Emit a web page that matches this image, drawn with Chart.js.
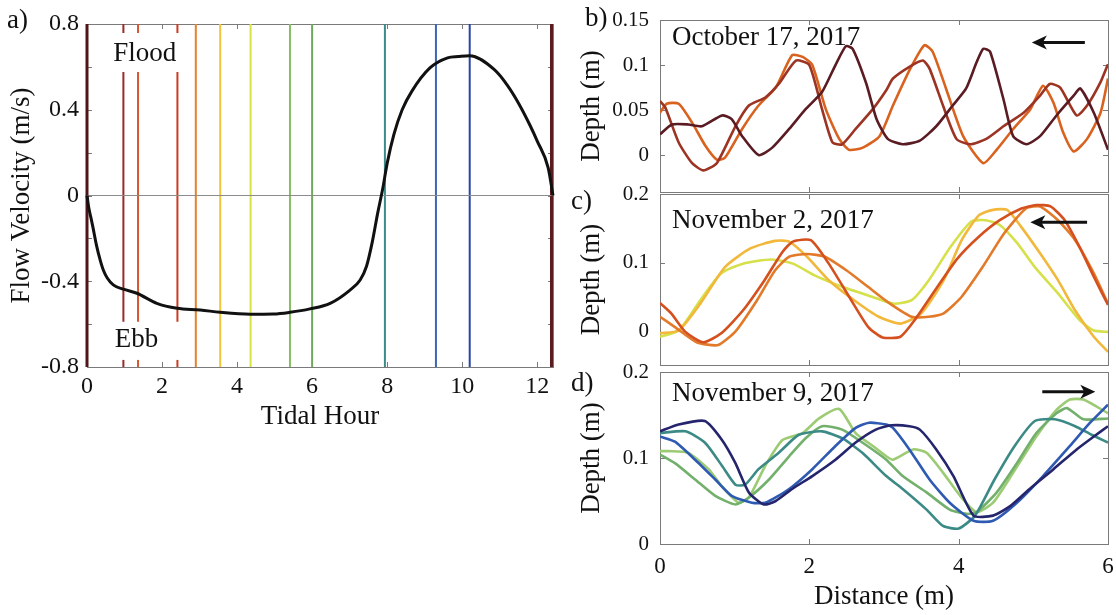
<!DOCTYPE html>
<html>
<head>
<meta charset="utf-8">
<script src="https://cdn.jsdelivr.net/npm/chart.js@4.4.1/dist/chart.umd.min.js"></script>
<style>
  body { margin: 0; background: #fff; width: 1116px; height: 615px; position: relative; overflow: hidden;
         font-family: "Liberation Serif", "Times New Roman", serif; }
  canvas { position: absolute; }
  .tag { position: absolute; font-size: 27px; line-height: 27px; color: #111; }
</style>
</head>
<body>
<canvas id="tide" width="560" height="440" style="left:0;top:0"></canvas>
<canvas id="oct17" width="556" height="200" style="left:560px;top:0"></canvas>
<canvas id="nov2" width="556" height="200" style="left:560px;top:170px"></canvas>
<canvas id="nov9" width="556" height="265" style="left:560px;top:350px"></canvas>
<div class="tag" style="left:7px;top:6px">a)</div>
<div class="tag" style="left:585px;top:4px">b)</div>
<div class="tag" style="left:571px;top:187px">c)</div>
<div class="tag" style="left:571px;top:369px">d)</div>
<script>
// ---- panel a: tidal velocity ----
const tidalHour = [0, 0.05, 0.1, 0.16, 0.25, 0.35, 0.44, 0.54, 0.7, 0.97, 1.33, 1.86, 2.4, 3.02, 3.55, 4.35,
  4.97, 5.41, 5.94, 6.48, 7.01, 7.28, 7.45, 7.6, 7.75, 7.88, 8.0, 8.18, 8.4, 8.66, 9.14, 9.61, 9.9, 10.19,
  10.85, 11.2, 11.52, 11.8, 12.0, 12.29, 12.42];
const flowVelocity = [0, -0.06, -0.1, -0.15, -0.23, -0.3, -0.35, -0.385, -0.417, -0.437, -0.456, -0.503, -0.526, -0.534, -0.545, -0.554,
  -0.553, -0.545, -0.529, -0.503, -0.441, -0.394, -0.33, -0.22, -0.08, 0.03, 0.15, 0.285, 0.4, 0.487, 0.595, 0.642, 0.648, 0.652,
  0.588, 0.515, 0.425, 0.33, 0.254, 0.13, 0];
const sampleHours = [0, 0.97, 1.36, 2.41, 2.9, 3.55, 4.36, 5.41, 6.0, 7.94, 9.3, 10.2, 12.38];
const hourTicks = [0, 2, 4, 6, 8, 10, 12];
const velocityTicks = [-0.8, -0.6, -0.4, -0.2, 0, 0.2, 0.4, 0.6, 0.8];

// ---- panels b-d: depth profiles, [distance m, depth m] ----
const oct17Maroon = [[0,0.023],[0.16,0.034],[0.38,0.034],[0.56,0.032],[0.83,0.044],[0.96,0.04],[1.1,0.021],[1.32,0],[1.5,0.008],
  [1.73,0.029],[1.95,0.051],[2.17,0.07],[2.35,0.1],[2.49,0.121],[2.58,0.118],[2.76,0.08],[2.9,0.04],[3.05,0.018],[3.25,0.012],
  [3.48,0.016],[3.7,0.032],[3.92,0.055],[4.1,0.074],[4.24,0.103],[4.33,0.118],[4.42,0.115],[4.6,0.062],[4.73,0.021],[4.91,0.012],
  [5.09,0.021],[5.31,0.044],[5.54,0.066],[5.63,0.074],[5.81,0.047],[6,0.006]];
const oct17Red = [[0,0.06],[0.07,0.053],[0.25,0.014],[0.43,-0.009],[0.58,-0.017],[0.76,-0.009],[1.01,0.032],[1.19,0.055],[1.41,0.064],
  [1.59,0.079],[1.82,0.105],[2.0,0.1],[2.17,0.051],[2.31,0.014],[2.44,0.012],[2.62,0.029],[2.85,0.051],[3.03,0.072],[3.12,0.085],
  [3.34,0.098],[3.52,0.105],[3.61,0.096],[3.79,0.055],[3.97,0.018],[4.15,0.012],[4.37,0.018],[4.6,0.032],[4.87,0.047],[5.09,0.066],
  [5.22,0.079],[5.36,0.075],[5.58,0.044],[5.72,0.055],[5.9,0.081],[6,0.101]];
const oct17Orange = [[0,0.047],[0.09,0.057],[0.25,0.057],[0.43,0.036],[0.61,0.01],[0.76,-0.005],[0.87,-0.003],[1.1,0.029],[1.32,0.055],
  [1.55,0.075],[1.77,0.111],[1.91,0.109],[2.04,0.1],[2.22,0.051],[2.4,0.018],[2.53,0.006],[2.71,0.008],[2.94,0.021],[3.12,0.055],
  [3.34,0.094],[3.54,0.122],[3.65,0.115],[3.83,0.074],[4.06,0.021],[4.33,-0.009],[4.51,0.006],[4.73,0.029],[4.96,0.051],[5.13,0.077],
  [5.27,0.058],[5.4,0.025],[5.54,0.004],[5.72,0.018],[5.9,0.047],[6,0.085]];

const nov2Red = [[0,0.042],[0.15,0.027],[0.34,0],[0.58,-0.015],[0.82,-0.002],[1.11,0.031],[1.4,0.075],[1.64,0.116],[1.78,0.131],
  [2.02,0.133],[2.26,0.099],[2.55,0.048],[2.79,0.007],[2.98,-0.008],[3.22,-0.007],[3.41,0.017],[3.7,0.063],[3.98,0.106],[4.27,0.138],
  [4.55,0.162],[4.84,0.179],[5.04,0.184],[5.23,0.182],[5.42,0.162],[5.62,0.123],[5.81,0.08],[6,0.039]];
const nov2Orange = [[0,0.022],[0.2,0.007],[0.49,-0.015],[0.78,-0.019],[1.02,0.002],[1.3,0.046],[1.54,0.089],[1.73,0.109],[1.97,0.113],
  [2.21,0.109],[2.5,0.089],[2.79,0.065],[3.08,0.041],[3.37,0.022],[3.6,0.022],[3.8,0.027],[4.04,0.051],[4.32,0.094],[4.61,0.143],
  [4.9,0.179],[5.09,0.182],[5.33,0.162],[5.56,0.133],[5.81,0.085],[6,0.041]];
const nov2Yellow = [[0,-0.002],[0.25,0.002],[0.54,0.041],[0.87,0.094],[1.21,0.121],[1.54,0.132],[1.73,0.131],[1.97,0.109],[2.26,0.075],
  [2.6,0.046],[2.93,0.022],[3.22,0.012],[3.5,0.027],[3.8,0.075],[4.04,0.133],[4.27,0.169],[4.46,0.177],[4.65,0.177],[4.84,0.152],
  [5.09,0.114],[5.33,0.075],[5.56,0.031],[5.81,-0.007],[6,-0.029]];
const nov2Lime = [[0,-0.007],[0.25,0.002],[0.54,0.046],[0.82,0.085],[1.11,0.099],[1.49,0.105],[1.78,0.099],[2.07,0.082],[2.45,0.065],
  [2.84,0.051],[3.12,0.041],[3.37,0.046],[3.6,0.075],[3.89,0.123],[4.17,0.16],[4.36,0.162],[4.55,0.155],[4.79,0.128],[5.02,0.094],
  [5.33,0.056],[5.62,0.017],[5.81,0.002],[6,0]];

const nov9Light = [[0,0.108],[0.11,0.108],[0.38,0.106],[0.65,0.087],[0.83,0.067],[1.05,0.048],[1.19,0.054],[1.41,0.091],[1.64,0.121],
  [1.91,0.129],[2.13,0.146],[2.4,0.157],[2.62,0.129],[2.85,0.114],[3.03,0.102],[3.12,0.098],[3.39,0.11],[3.57,0.106],[3.79,0.083],
  [4.02,0.056],[4.24,0.037],[4.46,0.048],[4.73,0.083],[5.04,0.125],[5.31,0.156],[5.49,0.168],[5.67,0.168],[6,0.152]];
const nov9Green = [[0,0.104],[0.2,0.094],[0.47,0.075],[0.74,0.056],[1.01,0.046],[1.19,0.054],[1.46,0.075],[1.73,0.102],[1.95,0.123],
  [2.17,0.137],[2.44,0.133],[2.71,0.118],[3.03,0.098],[3.25,0.079],[3.57,0.06],[3.88,0.04],[4.11,0.035],[4.24,0.037],[4.51,0.06],
  [4.78,0.094],[5.04,0.129],[5.31,0.152],[5.45,0.158],[5.67,0.145],[6,0.146]];
const nov9Teal = [[0,0.129],[0.34,0.131],[0.6,0.118],[0.83,0.091],[1.01,0.069],[1.14,0.069],[1.32,0.087],[1.59,0.106],[1.86,0.127],
  [2.17,0.131],[2.44,0.123],[2.71,0.106],[3.03,0.079],[3.25,0.064],[3.57,0.04],[3.79,0.021],[4.0,0.018],[4.22,0.033],[4.48,0.075],
  [4.75,0.114],[5.02,0.143],[5.29,0.145],[5.56,0.137],[5.78,0.127],[6,0.118]];
const nov9Blue = [[0,0.125],[0.2,0.119],[0.47,0.098],[0.74,0.075],[0.96,0.056],[1.23,0.048],[1.41,0.048],[1.73,0.064],[2.04,0.087],
  [2.35,0.114],[2.62,0.135],[2.8,0.141],[3.03,0.139],[3.12,0.135],[3.34,0.11],[3.61,0.075],[3.88,0.048],[4.2,0.027],[4.46,0.027],
  [4.78,0.048],[5.13,0.079],[5.49,0.114],[5.76,0.141],[6,0.162]];
const nov9Navy = [[0,0.131],[0.25,0.139],[0.6,0.143],[0.83,0.121],[1.01,0.094],[1.19,0.06],[1.39,0.046],[1.55,0.05],[1.77,0.064],
  [2.04,0.079],[2.35,0.098],[2.62,0.118],[2.89,0.133],[3.1,0.138],[3.34,0.137],[3.48,0.133],[3.7,0.11],[3.93,0.079],[4.2,0.033],
  [4.46,0.033],[4.69,0.044],[4.95,0.064],[5.27,0.087],[5.58,0.11],[5.81,0.125],[6,0.137]];
const distanceTicks = [0, 2, 4, 6];

const sampleColors = ['#4e1619', '#9a2b2b', '#d4582f', '#cc3b22', '#e8812c', '#f2c63a', '#d6e443',
  '#86bf62', '#6ea85a', '#3a8c8a', '#3a66b6', '#2b45a6', '#5a1c1e'];

const SERIF = '"Liberation Serif", "Times New Roman", serif';
Chart.defaults.font.family = SERIF;
Chart.defaults.color = '#111';

// frame with inward ticks, then text, white boxes and arrows in data units
const notes = {
  id: 'notes',
  beforeDatasetsDraw(chart) {
    const { ctx, chartArea: a, scales: { x, y } } = chart;
    ctx.save();
    ctx.strokeStyle = '#7a7a7a';
    ctx.lineWidth = 1;
    ctx.strokeRect(a.left + 0.5, a.top + 0.5, a.width, a.height);
    ctx.beginPath();
    x.ticks.forEach(t => {
      const p = Math.round(x.getPixelForValue(t.value)) + 0.5;
      ctx.moveTo(p, a.bottom); ctx.lineTo(p, a.bottom - 5);
      ctx.moveTo(p, a.top); ctx.lineTo(p, a.top + 5);
    });
    y.ticks.forEach(t => {
      const p = Math.round(y.getPixelForValue(t.value)) + 0.5;
      ctx.moveTo(a.left, p); ctx.lineTo(a.left + 5, p);
      ctx.moveTo(a.right, p); ctx.lineTo(a.right - 5, p);
    });
    ctx.stroke();
    ctx.restore();
  },
  afterDatasetsDraw(chart, args, opts) {
    const { ctx, scales: { x, y } } = chart;
    ctx.save();
    (opts.boxes || []).forEach(b => {
      const x0 = x.getPixelForValue(b[0]), x1 = x.getPixelForValue(b[1]);
      const y0 = y.getPixelForValue(b[2]), y1 = y.getPixelForValue(b[3]);
      ctx.fillStyle = '#fff';
      ctx.fillRect(x0, y0, x1 - x0, y1 - y0);
    });
    (opts.labels || []).forEach(l => {
      ctx.font = '27px ' + SERIF;
      ctx.fillStyle = '#111';
      ctx.textAlign = 'left';
      ctx.textBaseline = 'middle';
      ctx.fillText(l.text, x.getPixelForValue(l.x), y.getPixelForValue(l.y));
    });
    (opts.arrows || []).forEach(r => {
      const tx = x.getPixelForValue(r.from), hx = x.getPixelForValue(r.to), py = y.getPixelForValue(r.y);
      const dir = Math.sign(hx - tx);
      ctx.strokeStyle = '#111';
      ctx.fillStyle = '#111';
      ctx.lineWidth = 3;
      ctx.beginPath();
      ctx.moveTo(tx, py); ctx.lineTo(hx - dir * 8, py);
      ctx.stroke();
      ctx.beginPath();
      ctx.moveTo(hx, py);
      ctx.lineTo(hx - dir * 15, py - 7);
      ctx.lineTo(hx - dir * 11, py);
      ctx.lineTo(hx - dir * 15, py + 7);
      ctx.closePath();
      ctx.fill();
    });
    ctx.restore();
  }
};

function fixedTicks(list) {
  return s => { s.ticks = list.map(v => ({ value: v })); };
}

function axisX(min, max, list, height, withLabels, title, fontSize, labelPad, titlePad) {
  return {
    type: 'linear', min, max,
    afterBuildTicks: fixedTicks(list),
    afterFit: s => { s.height = height; s.paddingLeft = 0; s.paddingRight = 0; },
    grid: { display: false, drawTicks: false }, border: { display: false },
    ticks: { display: withLabels, font: { size: fontSize }, padding: labelPad,
      maxRotation: 0, autoSkip: false, callback: v => String(v) },
    title: { display: !!title, text: title, font: { size: 27 }, padding: { top: 0, bottom: titlePad } }
  };
}

function axisY(min, max, list, width, title, titlePad, fontSize, labelPad, labelled) {
  return {
    min, max,
    afterBuildTicks: fixedTicks(list),
    afterFit: s => { s.width = width; s.paddingTop = 0; s.paddingBottom = 0; },
    grid: { display: false, drawTicks: false }, border: { display: false },
    ticks: { font: { size: fontSize }, padding: labelPad, autoSkip: false,
      callback: v => (labelled ? labelled(v) : true) ? String(v) : '' },
    title: { display: true, text: title, font: { size: 27 }, padding: { top: titlePad, bottom: 0 } }
  };
}

function profile(points, color) {
  return { data: points.map(p => ({ x: p[0], y: p[1] })), borderColor: color, borderWidth: 2.6,
    pointRadius: 0, tension: 0.2, fill: false };
}

const baseOptions = {
  responsive: false, animation: false, events: [],
  plugins: { legend: { display: false }, tooltip: { enabled: false } }
};

// panel a
const velMin = -0.8, velMax = 0.8, hourMax = 12.42;
const tideSets = [
  { data: tidalHour.map((h, i) => ({ x: h, y: flowVelocity[i] })), borderColor: '#111', borderWidth: 3,
    pointRadius: 0, cubicInterpolationMode: 'monotone', clip: false },
  { data: [{ x: 0, y: 0 }, { x: hourMax, y: 0 }], borderColor: '#8c8c8c', borderWidth: 1, pointRadius: 0 }
];
sampleHours.forEach((h, i) => {
  tideSets.push({ data: [{ x: h, y: velMin }, { x: h, y: velMax }], borderColor: sampleColors[i],
    borderWidth: i === 0 || i === sampleHours.length - 1 ? 3 : 2, pointRadius: 0, clip: false });
});

new Chart(document.getElementById('tide'), {
  type: 'line',
  data: { datasets: tideSets },
  plugins: [notes],
  options: Object.assign({}, baseOptions, {
    layout: { padding: { top: 24, right: 7, left: 0, bottom: 0 } },
    scales: {
      x: axisX(0, hourMax, hourTicks, 73, true, 'Tidal Hour', 24, 5, 7),
      y: axisY(velMin, velMax, velocityTicks, 87, 'Flow Velocity (m/s)', 6, 24, 8,
        v => Math.round(v * 10) % 4 === 0)
    },
    plugins: Object.assign({}, baseOptions.plugins, {
      notes: {
        boxes: [[0.56, 2.52, 0.758, 0.576], [0.56, 2.52, -0.589, -0.767]],
        labels: [{ text: 'Flood', x: 0.7, y: 0.662 }, { text: 'Ebb', x: 0.74, y: -0.672 }]
      }
    })
  })
});

// panels b-d
function depthChart(id, sets, yMin, yMax, yTicks, top, xHeight, showX, note) {
  return new Chart(document.getElementById(id), {
    type: 'line',
    data: { datasets: sets },
    plugins: [notes],
    options: Object.assign({}, baseOptions, {
      layout: { padding: { top, right: 8, left: 0, bottom: 0 } },
      scales: {
        x: axisX(0, 6, distanceTicks, xHeight, showX, showX ? 'Distance (m)' : '', 23, 9, 2),
        y: axisY(yMin, yMax, yTicks, 100, 'Depth (m)', 16, 21, 11)
      },
      plugins: Object.assign({}, baseOptions.plugins, { notes: note })
    })
  });
}

depthChart('oct17', [
  profile(oct17Maroon, '#5a1b22'),
  profile(oct17Red, '#9c3424'),
  profile(oct17Orange, '#d9621f')
], -0.041, 0.15, [0, 0.05, 0.1, 0.15], 20, 8, false, {
  labels: [{ text: 'October 17, 2017', x: 0.16, y: 0.13 }],
  arrows: [{ from: 5.69, to: 4.98, y: 0.125 }]
});

depthChart('nov2', [
  profile(nov2Red, '#d4501e'),
  profile(nov2Orange, '#e27a2a'),
  profile(nov2Yellow, '#f2b83c'),
  profile(nov2Lime, '#d6e04a')
], -0.048, 0.2, [0, 0.1, 0.2], 24, 5, false, {
  labels: [{ text: 'November 2, 2017', x: 0.16, y: 0.161 }],
  arrows: [{ from: 5.72, to: 4.96, y: 0.159 }]
});

depthChart('nov9', [
  profile(nov9Navy, '#25256e'),
  profile(nov9Blue, '#2f5ab2'),
  profile(nov9Teal, '#3c8a86'),
  profile(nov9Green, '#72b06c'),
  profile(nov9Light, '#9ccb74')
], 0, 0.2, [0, 0.1, 0.2], 22, 71, true, {
  labels: [{ text: 'November 9, 2017', x: 0.16, y: 0.174 }],
  arrows: [{ from: 5.12, to: 5.83, y: 0.177 }]
});
</script>
</body>
</html>
